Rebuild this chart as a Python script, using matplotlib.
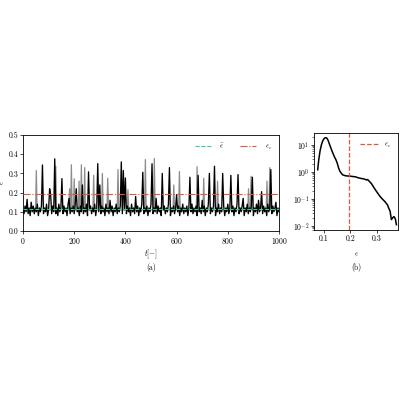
import numpy as np
import matplotlib
matplotlib.use("Agg")
import matplotlib.pyplot as plt

plt.rcParams.update({
    "font.family": "serif",
    "font.serif": ["cmr10", "DejaVu Serif"],
    "mathtext.fontset": "cm",
    "axes.formatter.use_mathtext": True,
    "font.size": 5.5,
    "axes.linewidth": 0.6,
    "xtick.major.width": 0.5,
    "ytick.major.width": 0.5,
    "xtick.major.size": 2,
    "ytick.major.size": 2,
    "ytick.minor.size": 1.2,
    "ytick.minor.width": 0.4,
})

# ---- panel (a): time series of epsilon ----
t_end = 1000
black_eps = [
    0.11, 0.09, 0.13, 0.10, 0.165, 0.09, 0.12, 0.08, 0.15, 0.10,
    0.13, 0.09, 0.12, 0.10, 0.14, 0.08, 0.12, 0.10, 0.13, 0.344,
    0.09, 0.12, 0.10, 0.14, 0.08, 0.11, 0.22, 0.19, 0.09, 0.13,
    0.10, 0.376, 0.09, 0.12, 0.08, 0.14, 0.10, 0.12, 0.273, 0.09,
    0.13, 0.10, 0.12, 0.08, 0.14, 0.17, 0.09, 0.12, 0.10, 0.13,
    0.09, 0.14, 0.22, 0.10, 0.12, 0.08, 0.13, 0.10, 0.24, 0.09,
    0.12, 0.10, 0.14, 0.08, 0.308, 0.11, 0.13, 0.09, 0.12, 0.10,
    0.14, 0.08, 0.12, 0.351, 0.10, 0.24, 0.09, 0.13, 0.10, 0.12,
    0.08, 0.14, 0.10, 0.12, 0.09, 0.16, 0.10, 0.13, 0.08, 0.12,
    0.10, 0.14, 0.09, 0.12, 0.10, 0.13, 0.36, 0.09, 0.315, 0.11,
    0.276, 0.09, 0.13, 0.10, 0.12, 0.08, 0.14, 0.10, 0.12, 0.09,
    0.18, 0.10, 0.13, 0.08, 0.12, 0.10, 0.14, 0.306, 0.09, 0.12,
    0.10, 0.13, 0.08, 0.12, 0.10, 0.14, 0.35, 0.09, 0.12, 0.10,
    0.17, 0.09, 0.13, 0.10, 0.12, 0.08, 0.30, 0.11, 0.13, 0.09,
    0.12, 0.10, 0.14, 0.33, 0.08, 0.12, 0.10, 0.13, 0.09, 0.12,
    0.19, 0.10, 0.13, 0.08, 0.12, 0.10, 0.14, 0.09, 0.12, 0.10,
    0.13, 0.08, 0.12, 0.28, 0.10, 0.14, 0.09, 0.12, 0.10, 0.13,
    0.08, 0.29, 0.10, 0.12, 0.09, 0.16, 0.10, 0.13, 0.08, 0.12,
    0.10, 0.14, 0.30, 0.09, 0.12, 0.10, 0.13, 0.337, 0.08, 0.12,
    0.10, 0.14, 0.09, 0.12, 0.10, 0.30, 0.13, 0.08, 0.12, 0.10,
    0.14, 0.09, 0.12, 0.29, 0.10, 0.13, 0.08, 0.12, 0.10, 0.14,
    0.294, 0.09, 0.12, 0.10, 0.13, 0.17, 0.08, 0.12, 0.10, 0.14,
    0.09, 0.12, 0.10, 0.13, 0.28, 0.08, 0.12, 0.10, 0.14, 0.09,
    0.16, 0.10, 0.12, 0.205, 0.09, 0.13, 0.10, 0.12, 0.08, 0.14,
    0.10, 0.12, 0.32, 0.09, 0.13, 0.10, 0.12, 0.15, 0.08, 0.12, 0.10,
]
gray_t = [0, 49, 52, 55, 125, 128, 131, 179, 182, 185, 186, 189, 192,
          197, 200, 203, 216, 219, 222, 225, 228, 231, 238, 241, 244,
          273, 276, 279, 307, 310, 313, 328, 331, 334, 368, 371, 374,
          407, 410, 413, 475, 478, 481, 510, 513, 516, 586, 589, 592,
          608, 611, 614, 677, 680, 683, 703, 706, 709, 757, 760, 763,
          878, 881, 884, 888, 891, 894, 950, 953, 956, 961, 964, 967, 1000]
gray_eps = [0.11, 0.11, 0.315, 0.11, 0.11, 0.337, 0.11, 0.11, 0.22, 0.11,
            0.11, 0.345, 0.11, 0.11, 0.272, 0.11, 0.11, 0.26, 0.11,
            0.11, 0.345, 0.11, 0.11, 0.33, 0.11, 0.11, 0.29, 0.11,
            0.11, 0.30, 0.11, 0.11, 0.275, 0.11, 0.11, 0.32, 0.11,
            0.11, 0.215, 0.11, 0.11, 0.372, 0.11, 0.11, 0.378, 0.11,
            0.11, 0.24, 0.11, 0.11, 0.31, 0.11, 0.11, 0.335, 0.11,
            0.11, 0.275, 0.11, 0.11, 0.26, 0.11, 0.11, 0.22, 0.11,
            0.11, 0.285, 0.11, 0.11, 0.26, 0.11, 0.11, 0.33, 0.11, 0.11]
eps_mean = 0.117
eps_e = 0.195

# ---- panel (b): PDF of epsilon ----
pdf_eps = [0.076, 0.08, 0.085, 0.09, 0.095, 0.10, 0.105, 0.11, 0.115, 0.12,
           0.125, 0.13, 0.135, 0.14, 0.145, 0.15, 0.155, 0.16, 0.165, 0.17,
           0.18, 0.19, 0.20, 0.21, 0.22, 0.23, 0.24, 0.25, 0.255, 0.26,
           0.265, 0.27, 0.28, 0.29, 0.30, 0.31, 0.32, 0.33, 0.34, 0.345,
           0.35, 0.355, 0.36, 0.365, 0.37, 0.374]
pdf_val = [1.2, 2.8, 6.0, 10.0, 14.0, 17.0, 18.5, 18.0, 15.0, 11.0,
           8.0, 6.0, 4.5, 3.5, 2.8, 2.1, 1.4, 1.05, 0.9, 0.78,
           0.72, 0.70, 0.69, 0.67, 0.65, 0.60, 0.57, 0.55, 0.53, 0.50,
           0.52, 0.46, 0.36, 0.25, 0.18, 0.13, 0.10, 0.08, 0.06, 0.045,
           0.035, 0.017, 0.020, 0.022, 0.018, 0.011]

teal = "#2fcf9f"
red = "#e8553a"

fig = plt.figure(figsize=(4, 4), dpi=100)
ax1 = fig.add_axes([0.0575, 0.4225, 0.64, 0.24])
ax2 = fig.add_axes([0.785, 0.425, 0.21, 0.2425])

t_black = np.linspace(0, t_end, len(black_eps))
ax1.plot(gray_t, gray_eps, color="#8c8c8c", lw=0.9, zorder=1)
ax1.plot(t_black, black_eps, color="black", lw=0.95, zorder=2)
ax1.axhline(eps_mean, color=teal, lw=0.8, ls="--", label=r"$\bar{\epsilon}$", zorder=3)
ax1.axhline(eps_e, color=red, lw=0.8, ls="-.", label=r"$\epsilon_e$", zorder=3)
ax1.set_xlim(0, 1000)
ax1.set_ylim(0, 0.5)
ax1.set_xticks([0, 200, 400, 600, 800, 1000])
ax1.set_yticks([0.0, 0.1, 0.2, 0.3, 0.4, 0.5])
ax1.set_yticklabels(["0.0", "0.1", "0.2", "0.3", "0.4", "0.5"])
ax1.set_xlabel(r"$t[-]$", labelpad=1)
ax1.set_ylabel(r"$\epsilon$", labelpad=1)
ax1.tick_params(pad=1.5)
ax1.legend(loc="upper right", ncol=2, frameon=False, fontsize=5.5,
           handlelength=2.1, columnspacing=2.0, handletextpad=1.1,
           borderaxespad=0.5)

ax2.plot(pdf_eps, pdf_val, color="black", lw=1.1)
ax2.axvline(eps_e, color=red, lw=0.9, ls="--", label=r"$\epsilon_e$")
ax2.set_yscale("log")
ax2.set_xlim(0.062, 0.38)
ax2.set_ylim(0.007, 27.5)
ax2.set_xticks([0.1, 0.2, 0.3])
ax2.set_xticklabels(["0.1", "0.2", "0.3"])
ax2.set_yticks([0.01, 0.1, 1, 10])
ax2.set_xlabel(r"$\epsilon$", labelpad=5)
ax2.tick_params(pad=1.5)
ax2.legend(loc="upper right", frameon=False, fontsize=5.5,
           handlelength=2.3, handletextpad=0.8, borderaxespad=0.5)

fig.text(151 / 400, 1 - 267 / 400, "(a)", ha="center", va="center", fontsize=5.5)
fig.text(356 / 400, 1 - 267 / 400, "(b)", ha="center", va="center", fontsize=5.5)

fig.savefig("out.png", dpi=100)
